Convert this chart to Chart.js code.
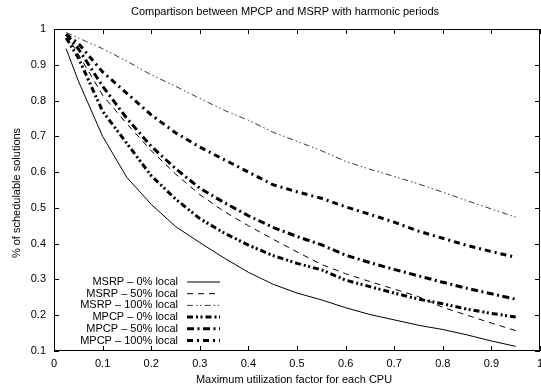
<html>
<head>
<style>
  body { margin: 0; background: #fff; }
  canvas { display: block; }
</style>
<script src="https://cdn.jsdelivr.net/npm/chart.js"></script>
</head>
<body>
<canvas id="chart" width="541" height="390"></canvas>
<script>
// utilization values on the x axis
var utilization = [0.025, 0.05, 0.1, 0.15, 0.2, 0.25, 0.3, 0.35, 0.4, 0.45, 0.5,
                   0.55, 0.6, 0.65, 0.7, 0.75, 0.8, 0.85, 0.9, 0.95];

var msrp0   = [0.945, 0.855, 0.70, 0.585, 0.51, 0.448, 0.403, 0.36, 0.32, 0.287, 0.262,
               0.243, 0.221, 0.202, 0.187, 0.172, 0.16, 0.145, 0.128, 0.113];
var msrp50  = [0.985, 0.93, 0.815, 0.735, 0.66, 0.595, 0.537, 0.49, 0.45, 0.413, 0.377,
               0.342, 0.316, 0.294, 0.273, 0.252, 0.222, 0.2, 0.178, 0.157];
var msrp100 = [0.99, 0.975, 0.945, 0.91, 0.872, 0.84, 0.806, 0.773, 0.745, 0.712, 0.686,
               0.66, 0.63, 0.608, 0.588, 0.567, 0.544, 0.52, 0.497, 0.474];
var mpcp0   = [0.975, 0.92, 0.77, 0.68, 0.59, 0.525, 0.47, 0.43, 0.396, 0.367, 0.345,
               0.327, 0.298, 0.28, 0.262, 0.245, 0.232, 0.217, 0.205, 0.195];
var mpcp50  = [0.985, 0.945, 0.84, 0.75, 0.672, 0.61, 0.555, 0.515, 0.478, 0.446, 0.42,
               0.397, 0.368, 0.347, 0.328, 0.31, 0.292, 0.275, 0.26, 0.245];
var mpcp100 = [0.985, 0.96, 0.88, 0.82, 0.76, 0.71, 0.67, 0.635, 0.6, 0.565, 0.545,
               0.527, 0.503, 0.482, 0.46, 0.435, 0.415, 0.395, 0.378, 0.362];

var seriesNames = ['MSRP \u2013 0% local', 'MSRP \u2013 50% local', 'MSRP \u2013 100% local',
                   'MPCP \u2013 0% local', 'MPCP \u2013 50% local', 'MPCP \u2013 100% local'];

var titleText = 'Compartison between MPCP and MSRP with harmonic periods';
var xTitle = 'Maximum utilization factor for each CPU';
var yTitle = '% of schedulable solutions';

var FONT = '"Liberation Sans", Arial, Helvetica, sans-serif';

function pts(values) {
    return values.map(function(v, i) { return { x: utilization[i], y: v }; });
}

var styles = [
    { borderWidth: 1,   borderDash: [] },
    { borderWidth: 1,   borderDash: [6, 5] },
    { borderWidth: 0.8, borderDash: [6, 3, 1.5, 2.5, 1.5, 3] },
    { borderWidth: 3,   borderDash: [6, 3, 2, 2.5, 2, 3] },
    { borderWidth: 3,   borderDash: [7, 3.5, 2, 3.5] },
    { borderWidth: 3,   borderDash: [6, 4, 2, 4] }
];

var allSeries = [msrp0, msrp50, msrp100, mpcp0, mpcp50, mpcp100];

var datasets = allSeries.map(function(s, i) {
    return {
        label: seriesNames[i],
        data: pts(s),
        borderColor: '#000',
        borderWidth: styles[i].borderWidth,
        borderDash: styles[i].borderDash,
        pointRadius: 0,
        fill: false,
        tension: 0
    };
});

// frame, inward ticks, titles and the gnuplot-like legend
var decorations = {
    id: 'decorations',
    afterDraw: function(chart) {
        var ctx = chart.ctx;
        var a = chart.chartArea;
        var xs = chart.scales.x, ys = chart.scales.y;
        ctx.save();
        ctx.strokeStyle = '#000';
        ctx.lineWidth = 1;
        ctx.setLineDash([]);
        ctx.strokeRect(a.left + 0.5, a.top + 0.5, a.right - a.left - 1, a.bottom - a.top - 1);
        var tl = 5;
        ctx.beginPath();
        xs.ticks.forEach(function(t) {
            var px = Math.round(xs.getPixelForValue(t.value)) + 0.5;
            ctx.moveTo(px, a.bottom); ctx.lineTo(px, a.bottom - tl);
            ctx.moveTo(px, a.top); ctx.lineTo(px, a.top + tl);
        });
        ys.ticks.forEach(function(t) {
            var py = Math.round(ys.getPixelForValue(t.value)) + 0.5;
            ctx.moveTo(a.left, py); ctx.lineTo(a.left + tl, py);
            ctx.moveTo(a.right, py); ctx.lineTo(a.right - tl, py);
        });
        ctx.stroke();

        ctx.fillStyle = '#000';
        ctx.font = '11px ' + FONT;
        ctx.textAlign = 'center';
        ctx.textBaseline = 'middle';
        ctx.fillText(titleText, 285, 12);
        ctx.fillText(xTitle, 294, 380);
        ctx.save();
        ctx.translate(17, 193);
        ctx.rotate(-Math.PI / 2);
        ctx.fillText(yTitle, 0, 0);
        ctx.restore();

        // legend
        var textRight = 178, sx0 = 187, sx1 = 220, y0 = 282, dy = 11.7;
        ctx.textAlign = 'right';
        chart.data.datasets.forEach(function(ds, i) {
            var y = y0 + i * dy;
            ctx.fillText(ds.label, textRight, y);
            ctx.beginPath();
            ctx.lineWidth = ds.borderWidth;
            ctx.setLineDash(ds.borderDash);
            ctx.moveTo(sx0, y); ctx.lineTo(sx1, y);
            ctx.stroke();
        });
        ctx.restore();
    }
};

var myChart = new Chart(document.getElementById('chart').getContext('2d'), {
    type: 'line',
    data: { datasets: datasets },
    options: {
        responsive: false,
        animation: false,
        layout: { padding: { top: 29, right: 1, left: 0, bottom: 0 } },
        plugins: {
            legend: { display: false },
            title: { display: false },
            tooltip: { enabled: false }
        },
        scales: {
            x: {
                type: 'linear',
                min: 0, max: 1,
                grid: { display: false, drawTicks: false },
                border: { display: false },
                ticks: {
                    stepSize: 0.1,
                    maxRotation: 0,
                    autoSkip: false,
                    padding: 6,
                    color: '#000',
                    font: { family: FONT, size: 11 },
                    callback: function(v) { return Math.round(v * 10) / 10; }
                },
                afterFit: function(s) { s.height = 39; s.paddingLeft = 0; s.paddingRight = 0; }
            },
            y: {
                min: 0.1, max: 1,
                grid: { display: false, drawTicks: false },
                border: { display: false },
                ticks: {
                    stepSize: 0.1,
                    padding: 8,
                    color: '#000',
                    font: { family: FONT, size: 11 },
                    callback: function(v) { return Math.round(v * 10) / 10; }
                },
                afterFit: function(s) { s.width = 54; s.paddingTop = 0; s.paddingBottom = 0; }
            }
        }
    },
    plugins: [decorations]
});
</script>
</body>
</html>
